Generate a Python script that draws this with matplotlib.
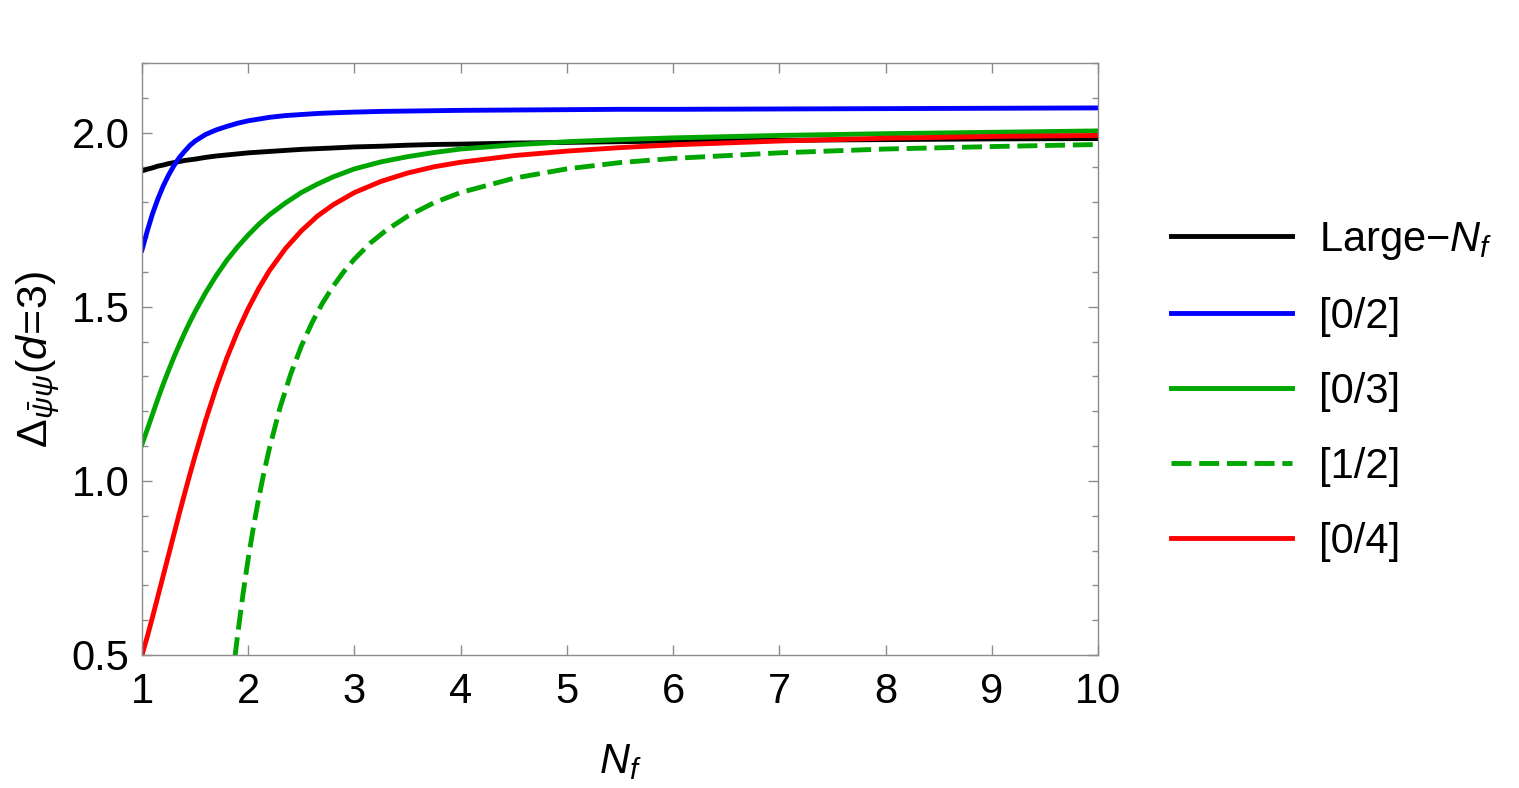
import matplotlib
matplotlib.use("Agg")
import matplotlib.pyplot as plt
from matplotlib.ticker import MultipleLocator

plt.rcParams['font.family'] = ['Liberation Sans', 'DejaVu Sans']
plt.rcParams['mathtext.fontset'] = 'custom'
plt.rcParams['mathtext.rm'] = 'Liberation Sans'
plt.rcParams['mathtext.it'] = 'Liberation Sans:italic'
plt.rcParams['mathtext.bf'] = 'Liberation Sans:bold'

# ---- values (N_f positions and Delta values) ----
nf = [1.0, 1.05, 1.1, 1.15, 1.2, 1.25, 1.3, 1.35, 1.4, 1.45, 1.5, 1.6, 1.7, 1.8, 1.9,
      2.0, 2.1, 2.2, 2.35, 2.5, 2.65, 2.8, 3.0, 3.25, 3.5, 3.75, 4.0, 4.5, 5.0, 5.5,
      6.0, 7.0, 8.0, 9.0, 10.0]

large_v = [1.890, 1.895, 1.899, 1.904, 1.907, 1.911, 1.914, 1.917, 1.920, 1.922, 1.924,
           1.929, 1.933, 1.936, 1.939, 1.942, 1.944, 1.946, 1.949, 1.952, 1.954, 1.956,
           1.959, 1.961, 1.964, 1.966, 1.967, 1.970, 1.972, 1.974, 1.976, 1.978, 1.980,
           1.982, 1.983]

p02_v = [1.663, 1.718, 1.768, 1.810, 1.847, 1.878, 1.905, 1.928, 1.946, 1.963, 1.976,
         1.995, 2.008, 2.018, 2.027, 2.034, 2.039, 2.044, 2.049, 2.052, 2.055, 2.057,
         2.059, 2.061, 2.062, 2.063, 2.064, 2.065, 2.066, 2.067, 2.067, 2.068, 2.069,
         2.070, 2.071]

p03_v = [1.105, 1.148, 1.192, 1.236, 1.278, 1.317, 1.355, 1.390, 1.424, 1.456, 1.486,
         1.541, 1.590, 1.634, 1.672, 1.706, 1.737, 1.764, 1.798, 1.828, 1.852, 1.873,
         1.896, 1.916, 1.931, 1.943, 1.953, 1.965, 1.974, 1.980, 1.985, 1.992, 1.997,
         2.001, 2.005]

p04_v = [0.500, 0.553, 0.610, 0.669, 0.728, 0.787, 0.846, 0.905, 0.962, 1.018, 1.072,
         1.175, 1.269, 1.354, 1.429, 1.495, 1.553, 1.604, 1.667, 1.718, 1.760, 1.793,
         1.828, 1.860, 1.884, 1.902, 1.915, 1.934, 1.947, 1.957, 1.965, 1.976, 1.984,
         1.989, 1.992]

nf12 = [1.875, 1.9, 1.95, 2.0, 2.05, 2.1, 2.15, 2.2, 2.3, 2.4, 2.5, 2.6, 2.7, 2.8, 2.9,
        3.0, 3.15, 3.3, 3.5, 3.75, 4.0, 4.5, 5.0, 5.5, 6.0, 7.0, 8.0, 9.0, 10.0]
p12_v = [0.494, 0.557, 0.673, 0.777, 0.869, 0.952, 1.027, 1.094, 1.211, 1.307, 1.387,
         1.454, 1.511, 1.559, 1.601, 1.637, 1.683, 1.720, 1.760, 1.799, 1.828, 1.869,
         1.896, 1.914, 1.926, 1.942, 1.953, 1.960, 1.966]

labels = ['Large\u2212$N_f$', '[0/2]', '[0/3]', '[1/2]', '[0/4]']
colors = ['#000000', '#0000ff', '#00a600', '#00a600', '#ff0000']

xticks = [1, 2, 3, 4, 5, 6, 7, 8, 9, 10]
yticks = [0.5, 1.0, 1.5, 2.0]

# ---- figure ----
W, H = 1519, 788
fig = plt.figure(figsize=(W / 100, H / 100), dpi=100)
L, R, B, T = 142, 1098, 655, 63
ax = fig.add_axes([L / W, 1 - B / H, (R - L) / W, (B - T) / H])

lw = 3.5
ax.plot(nf, large_v, color=colors[0], lw=lw, label=labels[0])
ax.plot(nf, p02_v, color=colors[1], lw=lw, label=labels[1])
ax.plot(nf, p03_v, color=colors[2], lw=lw, label=labels[2])
ax.plot(nf12, p12_v, color=colors[3], lw=lw, label=labels[3],
        linestyle=(0, (4.1, 1.6)), dash_capstyle='butt')
ax.plot(nf, p04_v, color=colors[4], lw=lw, label=labels[4])

ax.set_xlim(1, 10)
ax.set_ylim(0.5, 2.2)
ax.set_xticks(xticks)
ax.set_xticklabels([str(t) for t in xticks])
ax.set_yticks(yticks)
ax.set_yticklabels(['%.1f' % t for t in yticks])
ax.yaxis.set_minor_locator(MultipleLocator(0.1))

for s in ax.spines.values():
    s.set_color('#8c8c8c')
    s.set_linewidth(1.0)

ax.tick_params(axis='both', which='both', direction='in', top=True, right=True,
               color='#8c8c8c', width=1.0, labelsize=30, labelcolor='black')
ax.tick_params(axis='both', which='major', length=7)
ax.tick_params(axis='both', which='minor', length=4.5)
ax.tick_params(axis='x', pad=12)
ax.tick_params(axis='y', pad=9)

ax.set_xlabel('$N_f$', fontsize=30)
ax.xaxis.set_label_coords(0.5, (B - 762) / (B - T))
ax.xaxis.label.set_va('center')

ax.set_ylabel(r'$\Delta_{\bar{\psi}\psi}(d\!=\!3)$', fontsize=31)
ax.yaxis.set_label_coords((38 - L) / (R - L), (B - 359) / (B - T))
ax.yaxis.label.set_va('center')

fig.legend(loc='center left', bbox_to_anchor=(1171 / W, 1 - 391 / H),
           frameon=False, fontsize=30, handlelength=2.9, handletextpad=0.65,
           labelspacing=0.84, borderpad=0, borderaxespad=0)

fig.savefig('out.png', dpi=100)
